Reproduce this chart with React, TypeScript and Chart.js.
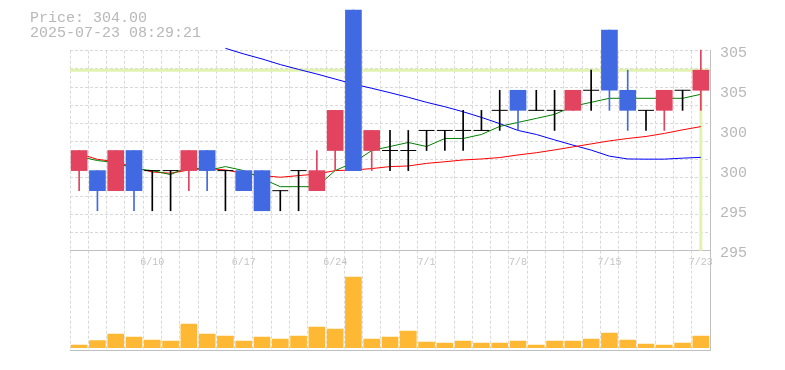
import React, { useEffect, useRef } from 'react';
import { Chart, registerables } from 'chart.js';

Chart.register(...registerables);

const DATES = ['6/4', '6/5', '6/6', '6/9', '6/10', '6/11', '6/12', '6/13', '6/16', '6/17', '6/18', '6/19', '6/20', '6/23', '6/24', '6/25', '6/26', '6/27', '6/30', '7/1', '7/2', '7/3', '7/4', '7/7', '7/8', '7/9', '7/10', '7/11', '7/14', '7/15', '7/16', '7/17', '7/18', '7/22', '7/23'];
const SHOWN_DATES = ['6/10', '6/17', '6/24', '7/1', '7/8', '7/15', '7/23'];

const OPEN = [299, 299, 298, 300, 299, 299, 299, 300, 299, 299, 299, 298, 299, 298, 300, 307, 300, 300, 300, 301, 301, 301, 301, 302, 303, 302, 302, 302, 303, 306, 303, 302, 302, 303, 303];
const HIGH = [300, 299, 300, 300, 299, 299, 300, 300, 299, 299, 299, 298, 299, 300, 302, 307, 301, 301, 301, 301, 301, 302, 302, 303, 303, 303, 303, 303, 304, 306, 304, 302, 303, 303, 305];
const LOW = [298, 297, 298, 297, 297, 297, 298, 298, 297, 298, 297, 297, 297, 298, 299, 299, 299, 299, 299, 300, 300, 300, 301, 301, 301, 302, 301, 302, 302, 302, 301, 301, 301, 302, 302];
const CLOSE = [300, 298, 300, 298, 299, 299, 300, 299, 299, 298, 297, 298, 299, 299, 302, 299, 301, 300, 300, 301, 301, 301, 301, 302, 302, 302, 302, 303, 303, 303, 302, 302, 303, 303, 304];

const MA_SHORT = [299.7, 299.5, 299.4, 299.1, 299.0, 298.8, 299.2, 299.0, 299.2, 299.0, 298.6, 298.2, 298.2, 298.2, 299.0, 299.4, 300.0, 300.2, 300.4, 300.2, 300.6, 300.6, 300.8, 301.2, 301.4, 301.6, 301.8, 302.2, 302.4, 302.6, 302.6, 302.6, 302.6, 302.6, 302.8];
const MA_MID = [299.84, 299.56, 299.44, 299.16, 298.93, 298.87, 299.03, 299.1, 299.03, 298.87, 298.75, 298.67, 298.75, 298.83, 299.0, 299.03, 299.1, 299.2, 299.23, 299.36, 299.44, 299.53, 299.58, 299.65, 299.78, 299.89, 300.03, 300.18, 300.33, 300.48, 300.6, 300.7, 300.85, 301.03, 301.19];
const MA_LONG = [null, null, null, null, null, null, null, null, 305.09, 304.81, 304.56, 304.28, 304.04, 303.81, 303.56, 303.31, 303.1, 302.88, 302.65, 302.4, 302.18, 301.93, 301.65, 301.34, 301.0, 300.8, 300.53, 300.27, 300.02, 299.72, 299.58, 299.57, 299.57, 299.62, 299.66];

const VOLUME = [2700, 7000, 13700, 10700, 7700, 6700, 23700, 13700, 11700, 6700, 10700, 8700, 11700, 20700, 18700, 70700, 8700, 10700, 16700, 5700, 4700, 6700, 4700, 4700, 6700, 2700, 6700, 6700, 8700, 14700, 7700, 3700, 2700, 4700, 11700];

const CURRENT_PRICE = 304;
const PRICE_TIME = '2025-07-23 08:29:21';
const PRICE_FLOOR = 295.01;

const PRICE_TICKS = [304.84, 302.85, 300.86, 298.87, 296.88, 294.89];
const PRICE_TICK_LABELS = ['305', '305', '300', '300', '295', '295'];
const GRID_ROWS = [0, 1, 2, 3, 4, 5, 6, 7, 8, 9, 10, 11];

const RED = 'rgb(226,67,95)';
const BLUE = 'rgb(65,105,225)';
const BLACK = '#000000';
const GRID = '#d9d9d9';
const AXIS = '#c0c0c0';
const TEXT = '#b8b8b8';
const XTEXT = '#c4c4c4';
const PRICE_LINE = 'rgb(226,242,176)';
const VOL_COLOR = '#FFB833';
const MONO = "'Liberation Mono', 'DejaVu Sans Mono', monospace";

export default function App() {
  const ref = useRef<HTMLCanvasElement | null>(null);

  useEffect(() => {
    if (!ref.current) return;
    const n = DATES.length;
    const isDoji = (i: number) => OPEN[i] === CLOSE[i];
    const candleColor = (i: number) => (isDoji(i) ? BLACK : CLOSE[i] > OPEN[i] ? RED : BLUE);

    const chart = new Chart(ref.current, {
      type: 'bar',
      data: {
        labels: DATES,
        datasets: [
          {
            type: 'bar',
            label: 'body',
            data: OPEN.map((o, i) => (isDoji(i) ? null : [o, CLOSE[i]])) as any,
            backgroundColor: OPEN.map((_, i) => candleColor(i)),
            barThickness: 16,
            grouped: false,
            borderWidth: 0,
            clip: false as any,
            order: 1,
            xAxisID: 'x',
            yAxisID: 'y',
          },
          {
            type: 'line',
            label: 'doji',
            data: OPEN.map((o, i) => (isDoji(i) ? o : null)),
            showLine: false,
            pointStyle: 'line',
            pointRadius: 8,
            pointHoverRadius: 8,
            pointBorderColor: BLACK,
            pointBorderWidth: 1,
            borderColor: BLACK,
            clip: false as any,
            order: 0,
            xAxisID: 'x',
            yAxisID: 'y',
          },
          {
            type: 'bar',
            label: 'wick',
            data: LOW.map((l, i) => [l, HIGH[i]]) as any,
            backgroundColor: OPEN.map((_, i) => candleColor(i)),
            barThickness: 1,
            grouped: false,
            borderWidth: 0,
            clip: false as any,
            order: 2,
            xAxisID: 'x',
            yAxisID: 'y',
          },
          {
            type: 'line',
            label: 'ma5',
            data: MA_SHORT,
            borderColor: '#008000',
            borderWidth: 1,
            pointRadius: 0,
            tension: 0,
            clip: false as any,
            order: 10,
            xAxisID: 'x',
            yAxisID: 'y',
          },
          {
            type: 'line',
            label: 'ma25',
            data: MA_MID,
            borderColor: '#ff0000',
            borderWidth: 1,
            pointRadius: 0,
            tension: 0,
            clip: false as any,
            order: 11,
            xAxisID: 'x',
            yAxisID: 'y',
          },
          {
            type: 'line',
            label: 'ma75',
            data: MA_LONG,
            borderColor: '#0000ff',
            borderWidth: 1,
            pointRadius: 0,
            tension: 0,
            spanGaps: false,
            clip: false as any,
            order: 12,
            xAxisID: 'x',
            yAxisID: 'y',
          },
          {
            type: 'line',
            label: 'price',
            data: [
              { x: 0, y: CURRENT_PRICE },
              { x: n, y: CURRENT_PRICE },
            ],
            borderColor: PRICE_LINE,
            borderWidth: 3,
            pointRadius: 0,
            clip: false as any,
            order: 30,
            xAxisID: 'xn',
            yAxisID: 'y',
          },
          {
            type: 'line',
            label: 'priceV',
            data: [
              { x: n - 0.5, y: CURRENT_PRICE },
              { x: n - 0.5, y: PRICE_FLOOR },
            ],
            borderColor: PRICE_LINE,
            borderWidth: 3,
            pointRadius: 0,
            clip: false as any,
            order: 31,
            xAxisID: 'xn',
            yAxisID: 'y',
          },
          {
            type: 'bar',
            label: 'volume',
            data: VOLUME,
            backgroundColor: VOL_COLOR,
            barThickness: 16,
            grouped: false,
            borderWidth: 0,
            order: 5,
            xAxisID: 'x',
            yAxisID: 'yv',
          },
        ],
      },
      options: {
        responsive: false,
        animation: false,
        events: [],
        layout: { padding: { left: 30, right: 0, top: 0, bottom: 20 } },
        plugins: {
          legend: { display: false },
          tooltip: { enabled: false },
          title: {
            display: true,
            text: ['Price: ' + CURRENT_PRICE.toFixed(2), PRICE_TIME],
            align: 'start',
            color: TEXT,
            font: { family: MONO, size: 15, weight: 'normal', lineHeight: 1 },
            padding: { top: 10.5, bottom: 10.2 },
          },
        },
        scales: {
          x: {
            type: 'category',
            position: 'bottom',
            offset: true,
            grid: { display: true, offset: true, color: GRID, lineWidth: 1, drawTicks: false },
            border: { display: true, color: AXIS, width: 1, dash: [3, 2] },
            ticks: { display: false, autoSkip: false },
            afterFit: (s: any) => {
              s.height = 0;
            },
          },
          xd: {
            type: 'category',
            axis: 'x',
            labels: DATES,
            position: { yg: 0 } as any,
            offset: true,
            grid: { display: false, drawTicks: false },
            border: { display: true, color: AXIS, width: 1 },
            ticks: {
              autoSkip: false,
              maxRotation: 0,
              minRotation: 0,
              padding: 5.5,
              color: XTEXT,
              font: { family: MONO, size: 10 },
              callback: (_v: any, i: number) => (SHOWN_DATES.includes(DATES[i]) ? DATES[i] : ''),
            },
            afterFit: (s: any) => {
              s.height = 0;
            },
          },
          xn: {
            type: 'linear',
            axis: 'x',
            display: false,
            offset: false,
            grid: { offset: false },
            min: 0,
            max: n,
            bounds: 'data',
          },
          y: {
            type: 'linear',
            position: 'right',
            min: 290.066,
            max: 304.971,
            bounds: 'data',
            grid: { display: false, drawTicks: false },
            border: { display: true, color: AXIS, width: 1 },
            ticks: {
              padding: 10,
              color: TEXT,
              font: { family: MONO, size: 15 },
              callback: (_v: any, i: number) => PRICE_TICK_LABELS[i],
            },
            afterBuildTicks: (s: any) => {
              s.ticks = PRICE_TICKS.map((v) => ({ value: v }));
            },
            afterFit: (s: any) => {
              s.width = 75;
            },
          },
          yg: {
            type: 'linear',
            position: 'left',
            min: 11 - 299.3 / (200 / 11),
            max: 11,
            bounds: 'data',
            grid: {
              display: true,
              drawTicks: false,
              lineWidth: 1,
              color: (ctx: any) => (ctx.tick && ctx.tick.value === 0 ? 'rgba(0,0,0,0)' : GRID),
            },
            border: { display: false, dash: [3, 2] },
            ticks: { display: false },
            afterBuildTicks: (s: any) => {
              s.ticks = GRID_ROWS.map((v) => ({ value: v }));
            },
            afterFit: (s: any) => {
              s.width = 40;
            },
          },
          yv: { type: 'linear', display: false, min: -2300, max: 297000, bounds: 'data' },
        },
      } as any,
    });

    return () => {
      chart.destroy();
    };
  }, []);

  return (
    <div style={{ position: 'absolute', left: 0, top: 0, width: 785, height: 370 }}>
      <canvas ref={ref} width={785} height={370} style={{ display: 'block' }} />
    </div>
  );
}
